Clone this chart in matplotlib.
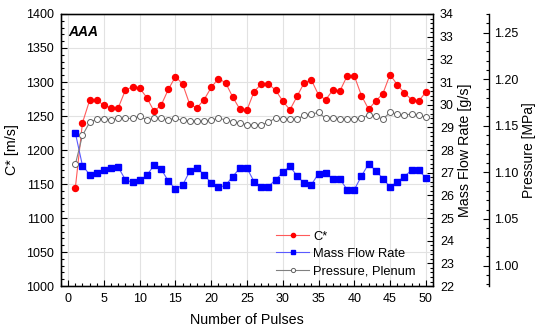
import matplotlib.pyplot as plt
import numpy as np
from matplotlib.ticker import MultipleLocator

plt.rcParams['font.family'] = ['Liberation Sans', 'DejaVu Sans']

pulses = np.arange(1, 51)

c_star = [1144, 1240, 1273, 1273, 1266, 1262, 1262, 1288, 1293, 1291,
          1277, 1257, 1266, 1289, 1308, 1297, 1267, 1262, 1274, 1292,
          1305, 1299, 1278, 1260, 1259, 1286, 1297, 1297, 1288, 1272,
          1259, 1279, 1299, 1303, 1281, 1274, 1288, 1287, 1309, 1309,
          1280, 1260, 1272, 1283, 1311, 1296, 1284, 1274, 1272, 1285]

mass_flow = [28.76, 27.31, 26.92, 26.99, 27.12, 27.21, 27.24, 26.69, 26.57, 26.66,
             26.88, 27.33, 27.16, 26.63, 26.28, 26.45, 27.07, 27.21, 26.91, 26.54,
             26.35, 26.44, 26.83, 27.20, 27.20, 26.60, 26.37, 26.39, 26.69, 27.01,
             27.29, 26.85, 26.54, 26.47, 26.96, 26.98, 26.72, 26.72, 26.25, 26.25,
             26.85, 27.39, 27.09, 26.74, 26.37, 26.60, 26.83, 27.11, 27.11, 26.77]

pressure = [1.1085, 1.1397, 1.1536, 1.1572, 1.1572, 1.1565, 1.1579, 1.1579, 1.1579, 1.1600,
            1.1565, 1.1579, 1.1579, 1.1565, 1.1579, 1.1557, 1.1551, 1.1551, 1.1551, 1.1561,
            1.1579, 1.1565, 1.1543, 1.1529, 1.1511, 1.1511, 1.1511, 1.1536, 1.1586, 1.1572,
            1.1572, 1.1572, 1.1611, 1.1625, 1.1643, 1.1579, 1.1582, 1.1575, 1.1572, 1.1572,
            1.1579, 1.1618, 1.1600, 1.1572, 1.1643, 1.1625, 1.1611, 1.1629, 1.1615, 1.1590]

fig = plt.figure(figsize=(5.38, 3.33), dpi=100)
ax = fig.add_axes([0.1134, 0.141, 0.6914, 0.817])
ax2 = ax.twinx()
ax3 = ax.twinx()
ax3.spines['right'].set_position(('axes', 1.1505))

ax.grid(True, which='major', color='#e2e2e2', lw=0.8)
ax.set_axisbelow(True)

l1, = ax.plot(pulses, c_star, color='#ff5a5a', lw=0.8, marker='o', ms=4.3,
              mfc='#ff0000', mec='#ff0000', label='C*', zorder=5)
l2, = ax2.plot(pulses, mass_flow, color='#5a5aff', lw=0.8, marker='s', ms=4.3,
               mfc='#0000ff', mec='#0000ff', label='Mass Flow Rate')
l3, = ax3.plot(pulses, pressure, color='#808080', lw=0.8, marker='o', ms=4.3,
               mfc='white', mec='#606060', mew=0.7, label='Pressure, Plenum')

ax.set_xlim(-1, 51)
ax.set_ylim(1000, 1400)
ax2.set_ylim(22, 34)
ax3.set_ylim(0.978, 1.27)

ax.xaxis.set_major_locator(MultipleLocator(5))
ax.xaxis.set_minor_locator(MultipleLocator(1))
ax.yaxis.set_major_locator(MultipleLocator(50))
ax.yaxis.set_minor_locator(MultipleLocator(10))
ax2.yaxis.set_major_locator(MultipleLocator(1))
ax2.yaxis.set_minor_locator(MultipleLocator(0.2))
ax3.yaxis.set_major_locator(MultipleLocator(0.05))
ax3.yaxis.set_minor_locator(MultipleLocator(0.01))
ax3.yaxis.set_major_formatter(plt.FormatStrFormatter('%.2f'))

for a in (ax, ax2, ax3):
    a.tick_params(which='both', direction='in', labelsize=9, width=0.8, pad=5)
    a.tick_params(which='major', length=4)
    a.tick_params(which='minor', length=2)
ax.tick_params(top=False, which='both')
ax3.tick_params(pad=4)

for s in ax.spines.values():
    s.set_linewidth(1.0)
ax3.spines['right'].set_linewidth(1.0)

ax.set_xlabel('Number of Pulses', fontsize=10.3, labelpad=6)
ax.set_ylabel('C* [m/s]', fontsize=10.3, labelpad=5)
ax2.set_ylabel('Mass Flow Rate [g/s]', fontsize=10.3, labelpad=3)
ax3.set_ylabel('Pressure [MPa]', fontsize=10, labelpad=2)

ax.text(0.02, 0.96, 'AAA', transform=ax.transAxes, fontsize=10,
        fontweight='bold', fontstyle='italic', va='top', ha='left')

leg = ax.legend(handles=[l1, l2, l3], loc='lower right', frameon=False,
                fontsize=9.3, markerscale=0.7, handlelength=2.6,
                handletextpad=0.3, labelspacing=0.4,
                bbox_to_anchor=(0.985, -0.01))
leg.set_zorder(10)

fig.savefig('out.png', dpi=100)
